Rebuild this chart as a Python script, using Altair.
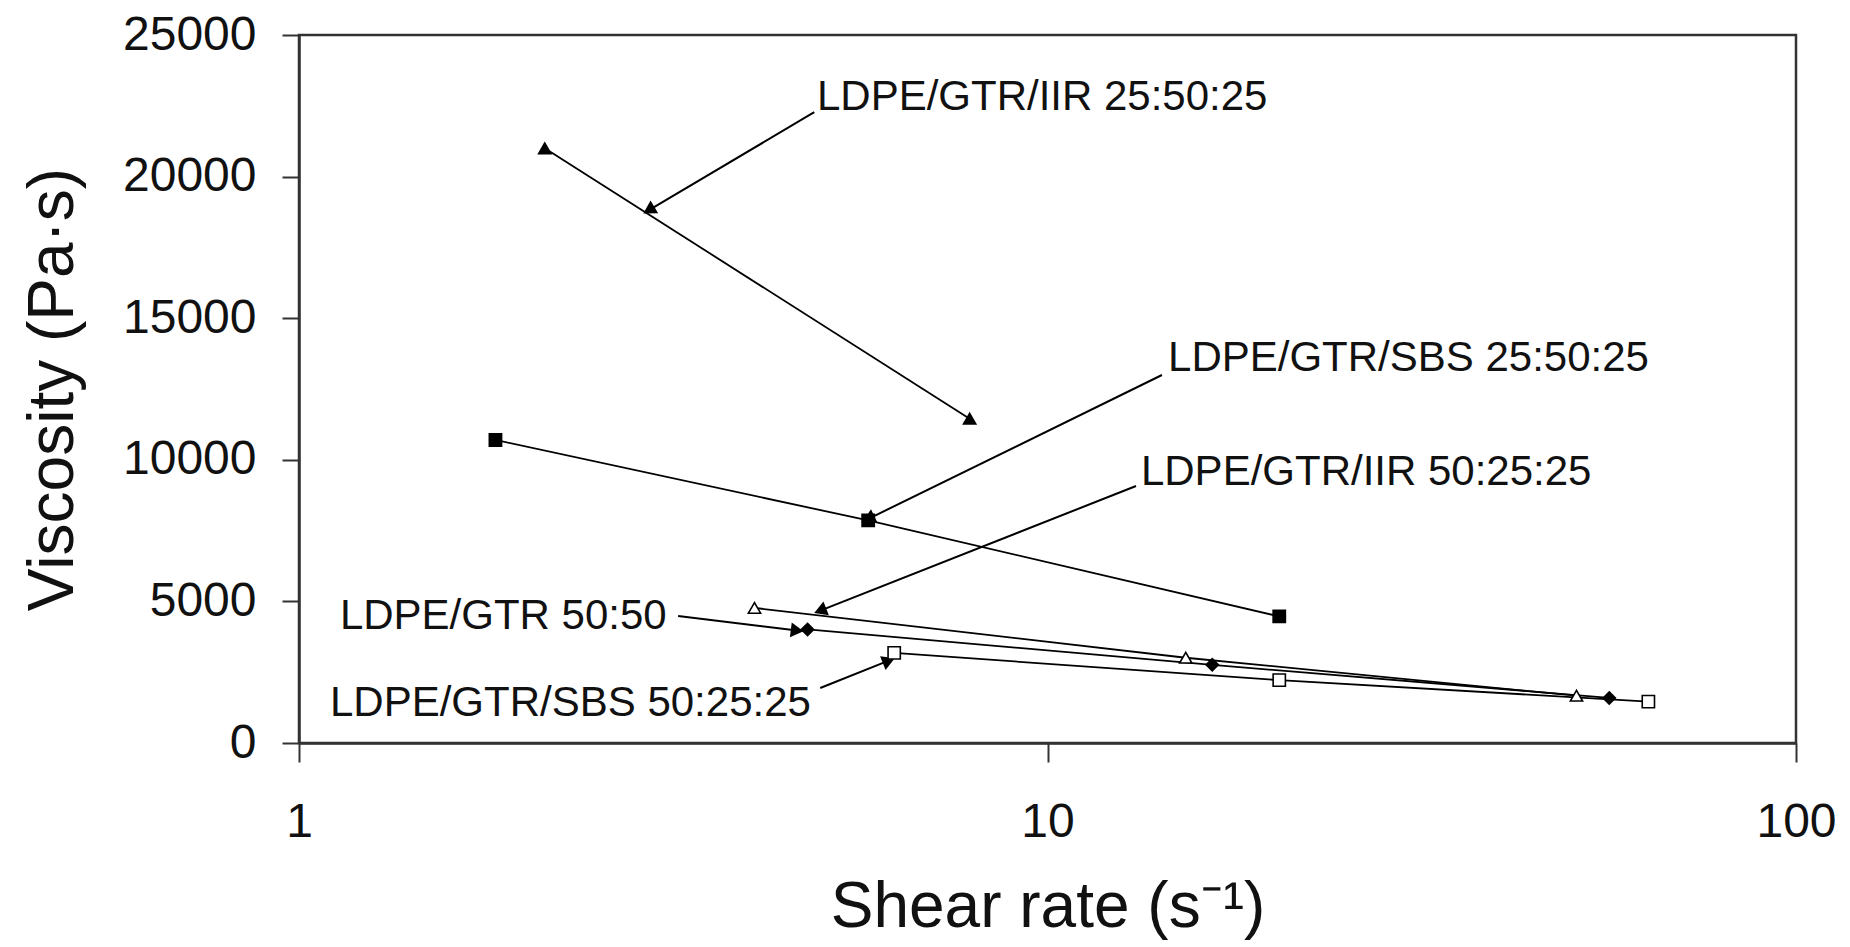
import math
import altair as alt
import pandas as pd

# ---------------- data ----------------
series_names = [
    "LDPE/GTR/IIR 25:50:25",
    "LDPE/GTR/SBS 25:50:25",
    "LDPE/GTR/IIR 50:25:25",
    "LDPE/GTR 50:50",
    "LDPE/GTR/SBS 50:25:25",
]
iir_25_x = [2.13, 7.87]
iir_25_y = [21000, 11450]
sbs_25_x = [1.83, 5.76, 20.4]
sbs_25_y = [10700, 7860, 4470]
iir_50_x = [4.06, 15.3, 50.9]
iir_50_y = [4770, 3010, 1670]
gtr_x = [4.78, 16.6, 56.3]
gtr_y = [4010, 2760, 1590]
sbs_50_x = [6.24, 20.4, 63.5]
sbs_50_y = [3180, 2220, 1460]

# annotation labels (text anchor, arrow start, arrow end) in data units
ann_text = series_names
ann_tx = [4.92, 14.49, 13.33, 1.134, 1.10]
ann_ty = [22810, 13594, 9569, 4484, 1412]
ann_x1 = [4.88, 14.22, 13.13, 3.21, 4.97]
ann_y1 = [22274, 12994, 9075, 4484, 1942]
ann_x2 = [2.95, 5.80, 5.00, 4.60, 6.10]
ann_y2 = [18850, 7950, 4700, 3980, 2880]

x_ticks = [1, 10, 100]
y_ticks = [0, 5000, 10000, 15000, 20000, 25000]

# ---------------- layout ----------------
W, H = 1497, 708
FONT = "Liberation Sans"

xs = [iir_25_x, sbs_25_x, iir_50_x, gtr_x, sbs_50_x]
ys = [iir_25_y, sbs_25_y, iir_50_y, gtr_y, sbs_50_y]
rows = []
for name, sx, sy in zip(series_names, xs, ys):
    for a, b in zip(sx, sy):
        rows.append({"series": name, "rate": a, "visc": b})
df = pd.DataFrame(rows)


def to_px(x, y):
    return W * math.log10(x) / 2.0, H * (1 - y / 25000.0)


angles = []
for x1, y1, x2, y2 in zip(ann_x1, ann_y1, ann_x2, ann_y2):
    p1 = to_px(x1, y1)
    p2 = to_px(x2, y2)
    dx, dy = p2[0] - p1[0], p2[1] - p1[1]
    angles.append(math.degrees(math.atan2(dx, -dy)) % 360)

ann = pd.DataFrame({
    "label": ann_text, "tx": ann_tx, "ty": ann_ty,
    "x1": ann_x1, "y1": ann_y1, "x2": ann_x2, "y2": ann_y2, "ang": angles,
})

xscale = alt.Scale(type="log", domain=[1, 100], nice=False)
yscale = alt.Scale(domain=[0, 25000], nice=False, zero=False)

x_enc = alt.X(
    "rate:Q", scale=xscale,
    axis=alt.Axis(
        values=x_ticks, format="d", title="Shear rate (s⁻¹)", grid=False,
        tickSize=19, labelPadding=36, labelFontSize=48, titleFontSize=64,
        titleX=W / 2, titleY=183, titleBaseline="alphabetic",
        labelFlush=False,
    ),
)
y_enc = alt.Y(
    "visc:Q", scale=yscale,
    axis=alt.Axis(
        values=y_ticks, format="d", title="Viscosity (Pa·s)", grid=False,
        tickSize=17, labelPadding=26, labelFontSize=48, titleFontSize=64,
        titleX=-246, titleY=H / 2, titleAngle=270, titleAlign="center",
        titleBaseline="middle", labelFlush=False,
    ),
)

base = alt.Chart(df)
lines = base.mark_line(color="black", strokeWidth=1.8).encode(
    x=x_enc, y=y_enc, detail="series:N"
)
points = base.mark_point(size=150, strokeWidth=1.6, opacity=1).encode(
    x="rate:Q", y="visc:Q",
    shape=alt.Shape("series:N", scale=alt.Scale(
        domain=series_names,
        range=["triangle-up", "square", "triangle-up", "diamond", "square"]),
        legend=None),
    fill=alt.Fill("series:N", scale=alt.Scale(
        domain=series_names,
        range=["black", "black", "white", "black", "white"]),
        legend=None),
    color=alt.value("black"),
)

abase = alt.Chart(ann)
arrows = abase.mark_rule(color="black", strokeWidth=2).encode(
    x=alt.X("x1:Q", scale=xscale), y=alt.Y("y1:Q", scale=yscale),
    x2="x2:Q", y2="y2:Q",
)
heads = abase.mark_point(shape="triangle", filled=True, color="black",
                         size=220, opacity=1).encode(
    x=alt.X("x2:Q", scale=xscale), y=alt.Y("y2:Q", scale=yscale),
    angle=alt.Angle("ang:Q", scale=None),
)
labels = abase.mark_text(align="left", baseline="middle", fontSize=42,
                         font=FONT, color="#111").encode(
    x=alt.X("tx:Q", scale=xscale), y=alt.Y("ty:Q", scale=yscale),
    text="label:N",
)

chart = alt.layer(lines, arrows, heads, points, labels).properties(
    width=W, height=H,
    autosize=alt.AutoSizeParams(type="none"),
    padding={"left": 299, "top": 35, "right": 54, "bottom": 204},
).configure(font=FONT, background="white").configure_axis(
    domainColor="#333", domainWidth=2.5, tickColor="#333", tickWidth=2,
    labelColor="#111", titleColor="#111", labelFont=FONT, titleFont=FONT,
    titleFontWeight="normal",
).configure_view(stroke="#333", strokeWidth=2.5)

chart.save("out.html", embed_options={"renderer": "svg", "actions": False})
